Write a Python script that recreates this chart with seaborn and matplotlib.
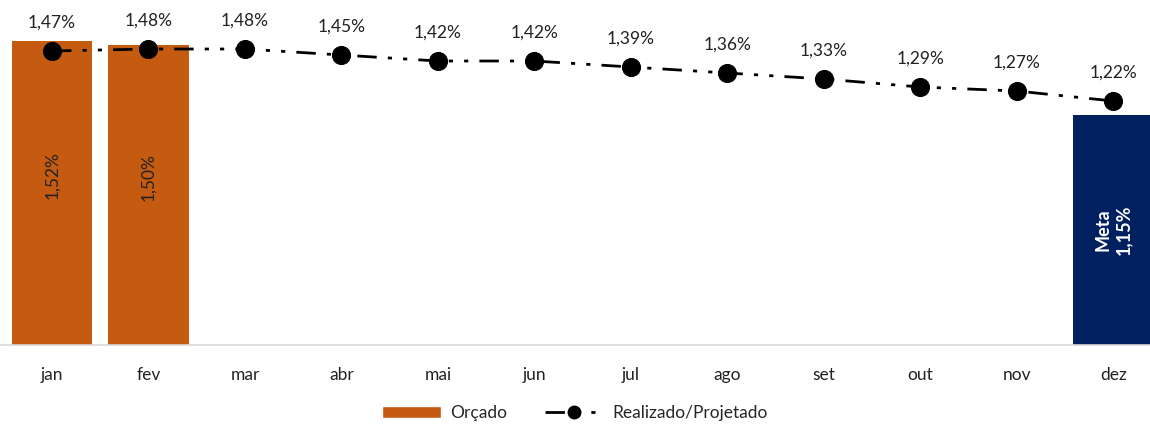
import matplotlib.pyplot as plt
import numpy as np
import pandas as pd
import seaborn as sns
from matplotlib.lines import Line2D
from matplotlib.patches import Patch

# Chart data
meses = ["jan", "fev", "mar", "abr", "mai", "jun", "jul", "ago", "set", "out", "nov", "dez"]
orcado = [1.52, 1.50, np.nan, np.nan, np.nan, np.nan, np.nan, np.nan, np.nan, np.nan, np.nan, np.nan]
meta = [np.nan] * 11 + [1.15]
realizado = [1.47, 1.48, 1.48, 1.45, 1.42, 1.42, 1.39, 1.36, 1.33, 1.29, 1.27, 1.22]

COR_ORCADO = "#C55A11"
COR_META = "#002060"
FS = 12.5


def fmt(v):
    return f"{v:.2f}%".replace(".", ",")


def main() -> None:
    sns.set_theme(style="white")
    plt.rcParams["font.family"] = ["Lato", "DejaVu Sans"]

    bars = [o if not np.isnan(o) else m for o, m in zip(orcado, meta)]
    cores = [COR_META if not np.isnan(m) else COR_ORCADO for m in meta]
    df = pd.DataFrame({"mes": meses, "valor": bars, "realizado": realizado})

    fig = plt.figure(figsize=(11.5, 4.26), dpi=100)
    ax = fig.add_axes([0, 0.19, 1, 0.81])

    sns.barplot(
        data=df, x="mes", y="valor", hue="mes", palette=cores,
        width=0.83, legend=False, ax=ax, saturation=1, linewidth=0,
    )
    xs = np.arange(len(meses))
    estilo = (0, (7, 4, 1.5, 4, 1.5, 4))
    sns.lineplot(
        x=xs, y=df["realizado"], ax=ax, color="black", linewidth=2,
        linestyle=estilo, marker="o", markersize=13,
        markeredgecolor="black",
    )

    # Labels above points
    for x, v in zip(xs, realizado):
        ax.annotate(fmt(v), (x, v), xytext=(0, 15), textcoords="offset points",
                    ha="center", va="bottom", fontsize=FS, color="#222222")

    # Labels inside bars
    for x, v in zip(xs, orcado):
        if not np.isnan(v):
            ax.text(x, v * 0.56, fmt(v), rotation=90, ha="center", va="center",
                    fontsize=FS, color="#222222")
    for x, v in zip(xs, meta):
        if not np.isnan(v):
            ax.text(x, v / 2, "Meta\n" + fmt(v), rotation=90, ha="center",
                    va="center", fontsize=FS + 0.5, color="white",
                    fontweight="bold", linespacing=1.25)

    ax.set_xlim(-0.539, 11.38)
    ax.set_ylim(0, 1.725)
    ax.set_yticks([])
    ax.set_xlabel("")
    ax.set_ylabel("")
    for s in ["top", "right", "left"]:
        ax.spines[s].set_visible(False)
    ax.spines["bottom"].set_color("#d9d9d9")
    ax.spines["bottom"].set_linewidth(1.2)
    ax.tick_params(axis="x", length=0, labelsize=FS, pad=16, colors="#222222")

    handles = [
        Patch(facecolor=COR_ORCADO, label="Orçado"),
        Line2D([0], [0], color="black", linewidth=2,
               linestyle=estilo, marker="o",
               markersize=9, label="Realizado/Projetado"),
    ]
    fig.legend(handles=handles, loc="center", bbox_to_anchor=(0.5, 0.03),
               ncol=2, frameon=False, fontsize=FS, handlelength=3.4,
               handletextpad=0.5, columnspacing=2.2)

    fig.savefig("out.png", dpi=100)
    plt.close(fig)


if __name__ == "__main__":
    main()
